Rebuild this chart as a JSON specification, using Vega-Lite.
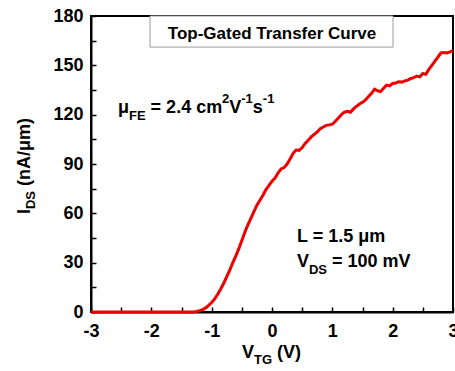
{
  "$schema": "https://vega.github.io/schema/vega-lite/v6.json",
  "width": 362,
  "height": 296,
  "autosize": {"type": "none"},
  "padding": {"left": 91, "top": 16, "right": 2, "bottom": 59},
  "background": "white",
  "config": {
    "view": {"stroke": "black", "strokeWidth": 2},
    "axis": {
      "grid": false,
      "domainColor": "black",
      "domainWidth": 2,
      "tickColor": "black",
      "tickWidth": 1.5,
      "tickSize": -5,
      "labelFont": "Liberation Sans",
      "labelFontWeight": "bold",
      "labelFontSize": 18,
      "labelColor": "black"
    },
    "text": {"font": "Liberation Sans", "fontWeight": "bold", "color": "black"}
  },
  "datasets": {
    "curve": [
      {"V": -3.0, "I": 0}, {"V": -2.5, "I": 0}, {"V": -2.0, "I": 0}, {"V": -1.5, "I": 0},
      {"V": -1.3, "I": 0}, {"V": -1.25, "I": 0.3}, {"V": -1.2, "I": 0.8}, {"V": -1.15, "I": 1.5},
      {"V": -1.1, "I": 2.5}, {"V": -1.05, "I": 4}, {"V": -1.0, "I": 5.8}, {"V": -0.95, "I": 8},
      {"V": -0.9, "I": 10.8}, {"V": -0.85, "I": 14}, {"V": -0.8, "I": 17.5}, {"V": -0.75, "I": 21.5},
      {"V": -0.7, "I": 25.5}, {"V": -0.65, "I": 30}, {"V": -0.6, "I": 34}, {"V": -0.55, "I": 38.5},
      {"V": -0.5, "I": 43.5}, {"V": -0.45, "I": 48.5}, {"V": -0.4, "I": 53}, {"V": -0.35, "I": 57},
      {"V": -0.3, "I": 61}, {"V": -0.25, "I": 65}, {"V": -0.2, "I": 68}, {"V": -0.15, "I": 71},
      {"V": -0.1, "I": 74.5}, {"V": -0.05, "I": 77}, {"V": 0.0, "I": 79.5}, {"V": 0.05, "I": 81.5},
      {"V": 0.1, "I": 84.5}, {"V": 0.15, "I": 87}, {"V": 0.2, "I": 87.8}, {"V": 0.25, "I": 90},
      {"V": 0.3, "I": 93}, {"V": 0.35, "I": 96.5}, {"V": 0.4, "I": 98.5}, {"V": 0.45, "I": 98.3},
      {"V": 0.5, "I": 100}, {"V": 0.55, "I": 102.5}, {"V": 0.6, "I": 104.5}, {"V": 0.65, "I": 106.5},
      {"V": 0.7, "I": 108}, {"V": 0.75, "I": 109.5}, {"V": 0.8, "I": 111.5}, {"V": 0.85, "I": 112.5},
      {"V": 0.9, "I": 113.5}, {"V": 0.95, "I": 113.8}, {"V": 1.0, "I": 114.2}, {"V": 1.05, "I": 116},
      {"V": 1.1, "I": 118}, {"V": 1.15, "I": 120}, {"V": 1.2, "I": 121.5}, {"V": 1.25, "I": 122},
      {"V": 1.3, "I": 121.5}, {"V": 1.35, "I": 123.5}, {"V": 1.4, "I": 125}, {"V": 1.45, "I": 126.5},
      {"V": 1.5, "I": 127.5}, {"V": 1.55, "I": 129}, {"V": 1.6, "I": 131}, {"V": 1.65, "I": 133},
      {"V": 1.7, "I": 135.5}, {"V": 1.75, "I": 134.5}, {"V": 1.8, "I": 134}, {"V": 1.85, "I": 136},
      {"V": 1.9, "I": 138}, {"V": 1.95, "I": 137.5}, {"V": 2.0, "I": 139}, {"V": 2.05, "I": 139.3},
      {"V": 2.1, "I": 140}, {"V": 2.15, "I": 139.8}, {"V": 2.2, "I": 140.5}, {"V": 2.25, "I": 141},
      {"V": 2.3, "I": 142}, {"V": 2.35, "I": 142.5}, {"V": 2.4, "I": 143.5}, {"V": 2.45, "I": 143},
      {"V": 2.5, "I": 145}, {"V": 2.55, "I": 144.5}, {"V": 2.6, "I": 147.5}, {"V": 2.65, "I": 150},
      {"V": 2.7, "I": 152.5}, {"V": 2.75, "I": 155}, {"V": 2.8, "I": 157.5}, {"V": 2.85, "I": 157.8},
      {"V": 2.9, "I": 157.5}, {"V": 2.95, "I": 158.2}, {"V": 3.0, "I": 159}
    ],
    "box": [{"V": -2.022, "V2": 2.006, "I": 161.1, "I2": 180}],
    "boxtext": [{"V": 0, "I": 166.0, "t": "Top-Gated Transfer Curve"}],
    "main18": [
      {"V": -2.553, "I": 121.0, "t": "μ"},
      {"V": -2.012, "I": 121.0, "t": "= 2.4 cm"},
      {"V": -0.708, "I": 121.0, "t": "V"},
      {"V": -0.318, "I": 121.0, "t": "s"},
      {"V": 0.414, "I": 42.6, "t": "L = 1.5 μm"},
      {"V": 0.414, "I": 27.4, "t": "V"},
      {"V": 0.995, "I": 27.4, "t": "= 100 mV"},
      {"V": -0.497, "I": -27.97, "t": "V"},
      {"V": 0.083, "I": -27.97, "t": "(V)"}
    ],
    "sub13": [
      {"V": -2.370, "I": 116.8, "t": "FE"},
      {"V": -0.827, "I": 127.1, "t": "2"},
      {"V": -0.509, "I": 127.1, "t": "-1"},
      {"V": -0.152, "I": 127.1, "t": "-1"},
      {"V": 0.613, "I": 23.1, "t": "DS"},
      {"V": -0.298, "I": -31.62, "t": "TG"}
    ],
    "rot18": [
      {"V": -4.011, "I": 59.6, "t": "I"},
      {"V": -4.011, "I": 76.6, "t": "(nA/μm)"}
    ],
    "rot13": [
      {"V": -3.928, "I": 62.6, "t": "DS"}
    ]
  },
  "encoding": {
    "x": {
      "field": "V", "type": "quantitative", "title": null,
      "scale": {"domain": [-3, 3], "nice": false, "zero": false},
      "axis": {
        "values": [-3, -2.5, -2, -1.5, -1, -0.5, 0, 0.5, 1, 1.5, 2, 2.5, 3],
        "labelExpr": "datum.value % 1 === 0 ? '' + datum.value : ''",
        "labelPadding": 15, "labelFlush": false
      }
    },
    "y": {
      "field": "I", "type": "quantitative", "title": null,
      "scale": {"domain": [0, 180], "nice": false},
      "axis": {
        "values": [0, 15, 30, 45, 60, 75, 90, 105, 120, 135, 150, 165, 180],
        "labelExpr": "datum.value % 30 === 0 ? '' + datum.value : ''",
        "labelPadding": 13, "labelFlush": false
      }
    }
  },
  "layer": [
    {
      "data": {"name": "box"},
      "mark": {"type": "rect", "fill": "white", "stroke": "#9a9a9a", "strokeWidth": 1},
      "encoding": {
        "x2": {"field": "V2"},
        "y2": {"field": "I2"}
      }
    },
    {
      "data": {"name": "curve"},
      "mark": {"type": "line", "color": "#ee0000", "strokeWidth": 3}
    },
    {
      "data": {"name": "boxtext"},
      "mark": {"type": "text", "fontSize": 17, "align": "center", "baseline": "alphabetic"},
      "encoding": {"text": {"field": "t"}}
    },
    {
      "data": {"name": "main18"},
      "mark": {"type": "text", "fontSize": 18, "align": "left", "baseline": "alphabetic"},
      "encoding": {"text": {"field": "t"}}
    },
    {
      "data": {"name": "sub13"},
      "mark": {"type": "text", "fontSize": 13, "align": "left", "baseline": "alphabetic"},
      "encoding": {"text": {"field": "t"}}
    },
    {
      "data": {"name": "rot18"},
      "mark": {"type": "text", "fontSize": 18, "angle": 270, "align": "left", "baseline": "alphabetic"},
      "encoding": {"text": {"field": "t"}}
    },
    {
      "data": {"name": "rot13"},
      "mark": {"type": "text", "fontSize": 13, "angle": 270, "align": "left", "baseline": "alphabetic"},
      "encoding": {"text": {"field": "t"}}
    }
  ]
}
